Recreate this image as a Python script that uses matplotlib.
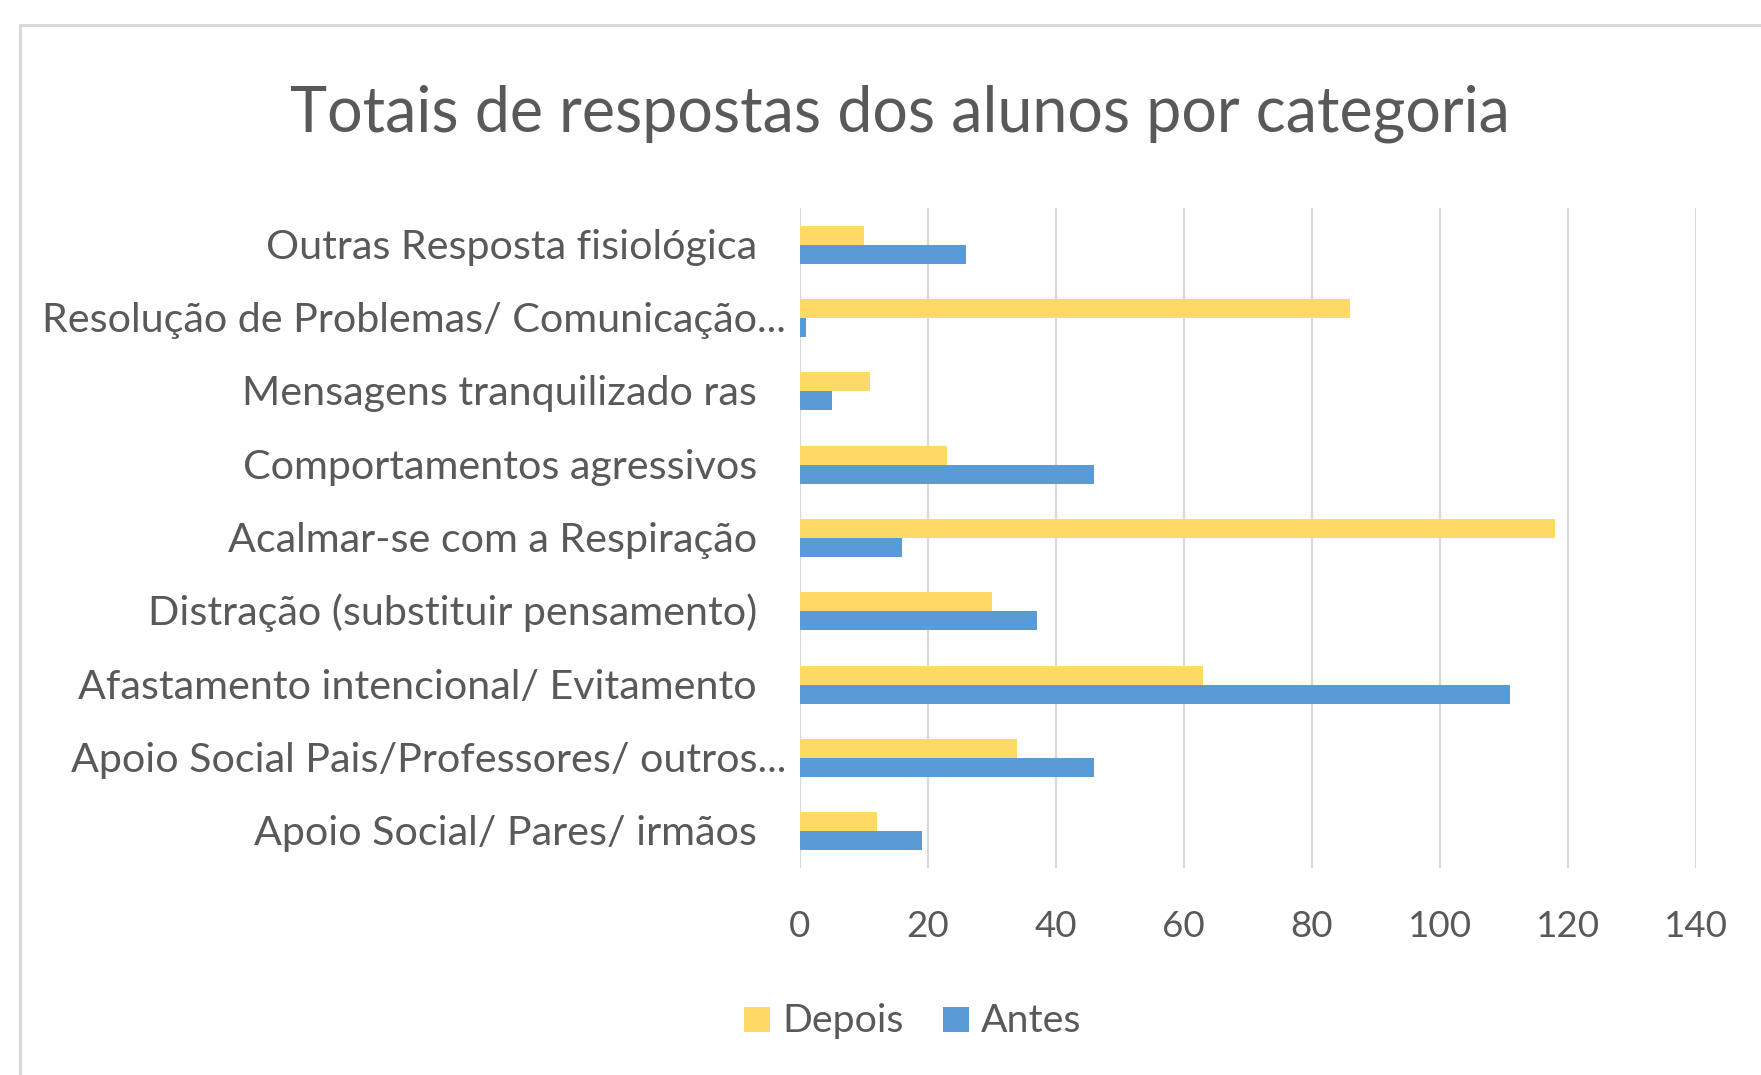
import matplotlib
matplotlib.use("Agg")
import matplotlib.pyplot as plt
from matplotlib.patches import Patch
from matplotlib.lines import Line2D
from matplotlib.transforms import blended_transform_factory, offset_copy
import numpy as np

plt.rcParams['font.family'] = ['Lato', 'DejaVu Sans']

# ---- data (top to bottom as displayed) ----
categories = [
    "Outras Resposta fisiológica",
    "Resolução de Problemas/ Comunicação...",
    "Mensagens tranquilizado ras",
    "Comportamentos agressivos",
    "Acalmar-se com a Respiração",
    "Distração (substituir pensamento)",
    "Afastamento intencional/ Evitamento",
    "Apoio Social Pais/Professores/ outros...",
    "Apoio Social/ Pares/ irmãos",
]
depois = [10, 86, 11, 23, 118, 30, 63, 34, 12]
antes = [26, 1, 5, 46, 16, 37, 111, 46, 19]
xticks = [0, 20, 40, 60, 80, 100, 120, 140]
title = "Totais de respostas dos alunos por categoria"
series_names = ["Depois", "Antes"]

W, H = 1761, 1075
TEXT = '#595959'
YELLOW = '#FFD966'
BLUE = '#5B9BD5'
GRID = '#D9D9D9'

fig = plt.figure(figsize=(W / 100, H / 100), dpi=100)
fig.patch.set_facecolor('white')

# chart border (top and left visible)
fig.add_artist(Line2D([20 / W, 1.0], [1 - 25 / H, 1 - 25 / H], color=GRID, lw=2.2))
fig.add_artist(Line2D([20 / W, 20 / W], [1 - 25 / H, 0.0], color=GRID, lw=2.2))

ax = fig.add_axes([800 / W, 1 - 868 / H, 895.5 / W, 660 / H])
n = len(categories)
ypos = np.arange(n)[::-1]
bh = 0.26
ax.barh(ypos + bh / 2, depois, height=bh, color=YELLOW, linewidth=0, zorder=2)
ax.barh(ypos - bh / 2, antes, height=bh, color=BLUE, linewidth=0, zorder=2)

ax.set_xlim(0, 140)
ax.set_ylim(-0.5, n - 0.5)
ax.set_xticks(xticks)
ax.set_xticklabels([str(t) for t in xticks])
ax.set_yticks([])
ax.grid(axis='x', color=GRID, lw=1.6, zorder=0)
ax.set_axisbelow(True)
for s in ax.spines.values():
    s.set_visible(False)
ax.tick_params(axis='x', length=0, pad=30, labelsize=26, labelcolor=TEXT)

# category labels
tr = blended_transform_factory(ax.transAxes, ax.transData)
labels = []
for cat, y in zip(categories, ypos):
    xa = (786 - 800) / 895.5 if cat.endswith("...") else (757 - 800) / 895.5
    t = ax.text(xa, y, cat, ha='right', va='baseline', fontsize=28, color=TEXT,
                transform=offset_copy(tr, fig=fig, x=0, y=-14 * 0.72, units='points'))
    labels.append(t)

ttl = fig.text(900 / W, 1 - 131 / H, title, ha='center', va='baseline', fontsize=42, color=TEXT)

handles = [Patch(facecolor=YELLOW, edgecolor='none'), Patch(facecolor=BLUE, edgecolor='none')]
leg = fig.legend(handles, series_names, loc='center', bbox_to_anchor=(913 / W, 1 - 1021 / H),
                 ncol=2, frameon=False, fontsize=26, labelcolor=TEXT,
                 handlelength=0.7, handleheight=0.7, handletextpad=0.35, columnspacing=1.1)

# fit font sizes to measured widths
fig.canvas.draw()
r = fig.canvas.get_renderer()
def fit(t, target):
    w = t.get_window_extent(r).width
    t.set_fontsize(t.get_fontsize() * target / w)

fit(ttl, 1221)
ref = labels[5]
w = ref.get_window_extent(r).width
scale = 609 / w
for t in labels:
    t.set_fontsize(t.get_fontsize() * scale)
xt = ax.get_xticklabels()[-1]
wx = xt.get_window_extent(r).width
ax.tick_params(axis='x', labelsize=26 * 64 / wx)
lt = leg.get_texts()[0]
wl = lt.get_window_extent(r).width
for t in leg.get_texts():
    t.set_fontsize(26 * 121 / wl)

fig.savefig("out.png", dpi=100, facecolor='white')
